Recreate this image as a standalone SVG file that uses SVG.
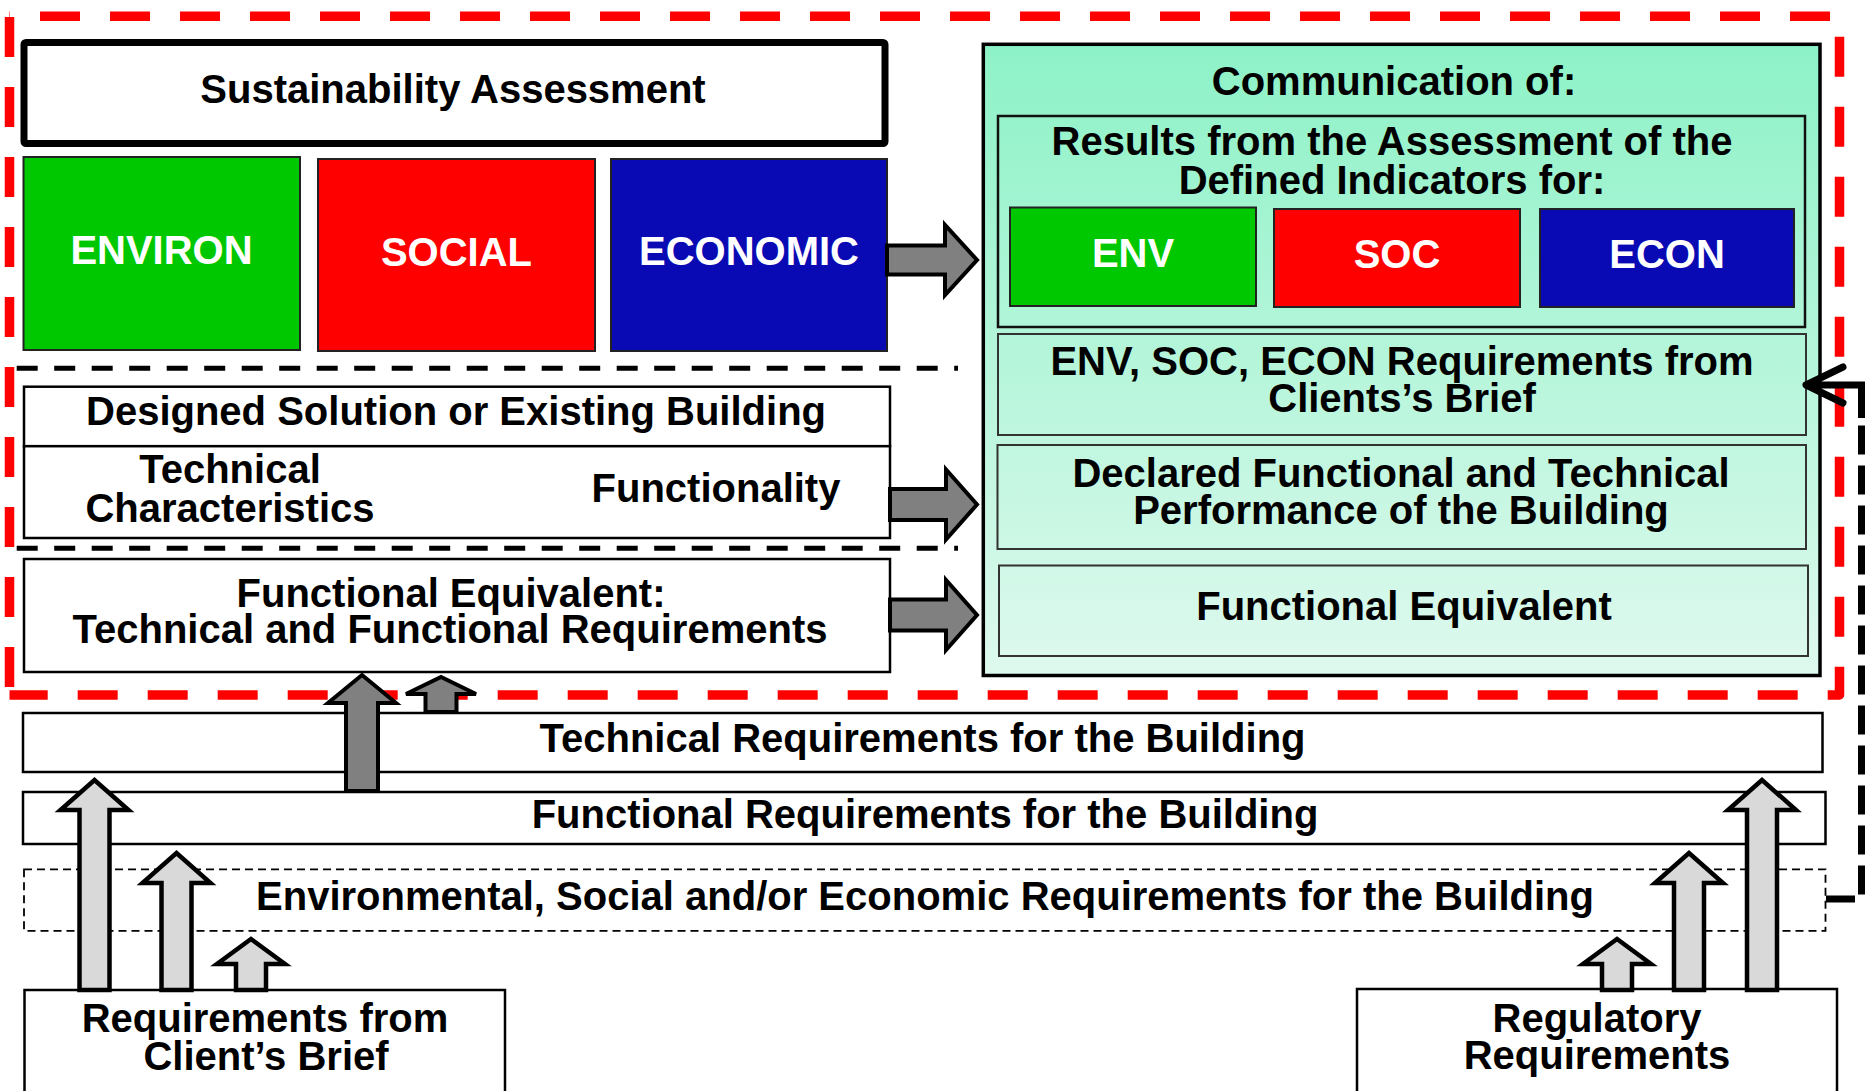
<svg xmlns="http://www.w3.org/2000/svg" width="1865" height="1091" viewBox="0 0 1865 1091">
<defs>
<linearGradient id="mint" x1="0" y1="0" x2="0" y2="1">
<stop offset="0" stop-color="#8df2c7"/>
<stop offset="1" stop-color="#def9ee"/>
</linearGradient>
</defs>
<style>
.t{font-family:"Liberation Sans",Arial,sans-serif;font-weight:bold;font-size:40px;text-anchor:middle;fill:#000}
.w{fill:#fff}
.box{fill:#fff;stroke:#000;stroke-width:2.5}
.in{fill:none;stroke:#333;stroke-width:2}
.col{stroke:#222;stroke-width:2}
.arr{fill:#808080;stroke:#000;stroke-width:4;stroke-linejoin:miter}
.lt{fill:#d9d9d9;stroke:#000;stroke-width:4.5;stroke-linejoin:miter}
.red{fill:none;stroke:#ff0000;stroke-width:9.5;stroke-dasharray:40 30;stroke-linejoin:round}
.blk{fill:none;stroke:#000;stroke-width:5;stroke-dasharray:21 16.5}
</style>

<g id="frame">
<path class="red" d="M9.5,16.3 H1839.5 V695 H9.5" stroke-dashoffset="39.5"/>
<path class="red" d="M9.5,16.3 V695" stroke-dashoffset="-0.7"/>
<line class="blk" x1="16.7" y1="368.3" x2="958" y2="368.3"/>
<line class="blk" x1="16.7" y1="548.3" x2="958" y2="548.3"/>
</g>

<g id="sustainability">
<rect x="24" y="42.5" width="861" height="101" rx="2" fill="#fff" stroke="#000" stroke-width="7"/>
<text class="t" x="453" y="103">Sustainability Assessment</text>
</g>
<g id="environ">
<rect class="col" x="23.5" y="157" width="276.5" height="193" fill="#00c800"/>
<text class="t w" x="161.5" y="263.5">ENVIRON</text>
</g>
<g id="social">
<rect class="col" x="318" y="159" width="277" height="192" fill="#ff0000"/>
<text class="t w" x="456.5" y="265.5">SOCIAL</text>
</g>
<g id="economic">
<rect class="col" x="611" y="159" width="276" height="192" fill="#0a0ab4"/>
<text class="t w" x="749" y="265">ECONOMIC</text>
</g>

<g id="designed">
<rect class="box" x="24" y="386.7" width="866" height="59.5"/>
<text class="t" x="456" y="425">Designed Solution or Existing Building</text>
</g>
<g id="tech-func">
<rect class="box" x="24" y="446.2" width="866" height="91.8"/>
<text class="t" x="230" y="483">Technical</text>
<text class="t" x="230" y="522">Characteristics</text>
<text class="t" x="716" y="502">Functionality</text>
</g>
<g id="functional-equivalent-left">
<rect class="box" x="24" y="559" width="866" height="113"/>
<text class="t" x="451" y="607">Functional Equivalent:</text>
<text class="t" x="450" y="643">Technical and Functional Requirements</text>
</g>

<g id="communication">
<rect x="983.3" y="44.3" width="836.7" height="631.2" fill="url(#mint)" stroke="#000" stroke-width="3.5"/>
<text class="t" x="1394" y="95">Communication of:</text>
<rect x="998" y="116" width="807" height="211" fill="none" stroke="#111" stroke-width="2.5"/>
<text class="t" x="1392" y="155">Results from the Assessment of the</text>
<text class="t" x="1392" y="194">Defined Indicators for:</text>
</g>
<g id="env">
<rect class="col" x="1010" y="207.5" width="246" height="98.5" fill="#00c800"/>
<text class="t w" x="1133" y="267">ENV</text>
</g>
<g id="soc">
<rect class="col" x="1274" y="209" width="246" height="98" fill="#ff0000"/>
<text class="t w" x="1397" y="268">SOC</text>
</g>
<g id="econ">
<rect class="col" x="1540" y="209" width="254" height="98" fill="#0a0ab4"/>
<text class="t w" x="1667" y="268">ECON</text>
</g>
<g id="req-brief-comm">
<rect class="in" x="998" y="334" width="808" height="101"/>
<text class="t" x="1402" y="375">ENV, SOC, ECON Requirements from</text>
<text class="t" x="1402" y="412">Clients’s Brief</text>
</g>
<g id="declared">
<rect class="in" x="997.5" y="445" width="808.5" height="104"/>
<text class="t" x="1401" y="487">Declared Functional and Technical</text>
<text class="t" x="1401" y="524">Performance of the Building</text>
</g>
<g id="functional-equivalent-right">
<rect class="in" x="999" y="565.5" width="809" height="90.5"/>
<text class="t" x="1404" y="620">Functional Equivalent</text>
</g>

<g id="technical-requirements">
<rect class="box" x="23" y="713" width="1799.5" height="59" stroke-width="2.2"/>
<text class="t" x="922.5" y="751.5">Technical Requirements for the Building</text>
</g>
<g id="functional-requirements">
<rect class="box" x="23" y="792" width="1802.5" height="52" stroke-width="2.2"/>
<text class="t" x="925" y="828">Functional Requirements for the Building</text>
</g>
<g id="esec-requirements">
<rect x="24" y="869.3" width="1801.5" height="61.5" fill="#fff" stroke="#000" stroke-width="1.8" stroke-dasharray="8 5"/>
<text class="t" x="925" y="910">Environmental, Social and/or Economic Requirements for the Building</text>
</g>
<g id="client-brief">
<rect class="box" x="24.5" y="990" width="480.5" height="120" stroke-width="2.2"/>
<text class="t" x="265" y="1032">Requirements from</text>
<text class="t" x="266" y="1070">Client’s Brief</text>
</g>
<g id="regulatory">
<rect class="box" x="1357" y="989" width="480" height="120" stroke-width="2.2"/>
<text class="t" x="1597" y="1032">Regulatory</text>
<text class="t" x="1597" y="1069">Requirements</text>
</g>

<g id="connectors">
<polygon class="arr" points="887,245.5 945,245.5 945,225 977,260 945,295 945,274.5 887,274.5"/>
<polygon class="arr" points="890,489 946,489 946,469.5 977,504.5 946,539.5 946,520 890,520"/>
<polygon class="arr" points="890,599.5 946,599.5 946,580 977,615 946,650 946,630.5 890,630.5"/>
<polygon class="arr" points="346,791 346,703 328,703 362,675 396,703 378,703 378,791"/>
<polygon class="arr" points="425.5,712 425.5,694 406,694 441,677 476,694 456.5,694 456.5,712"/>
<polygon class="lt" points="79.5,990 79.5,810 60.5,810 94.5,780 128.5,810 109.5,810 109.5,990"/>
<polygon class="lt" points="161.5,990 161.5,883 142.5,883 176.5,853 210.5,883 191.5,883 191.5,990"/>
<polygon class="lt" points="236,990 236,964 217,964 251,939 285,964 266,964 266,990"/>
<polygon class="lt" points="1602,990 1602,964 1583,964 1617,939 1651,964 1632,964 1632,990"/>
<polygon class="lt" points="1674,990 1674,883 1655,883 1689,853 1723,883 1704,883 1704,990"/>
<polygon class="lt" points="1747,990 1747,810 1728,810 1762,780 1796,810 1777,810 1777,990"/>
<path d="M1826,899 H1861.5 V385" fill="none" stroke="#000" stroke-width="7" stroke-dasharray="29 11"/>
<path d="M1861.5,418 V385 H1808" fill="none" stroke="#000" stroke-width="7" stroke-linejoin="miter"/>
<polyline points="1843,367 1806,385 1843,403" fill="none" stroke="#000" stroke-width="7" stroke-linecap="round" stroke-linejoin="round"/>
</g>
</svg>
